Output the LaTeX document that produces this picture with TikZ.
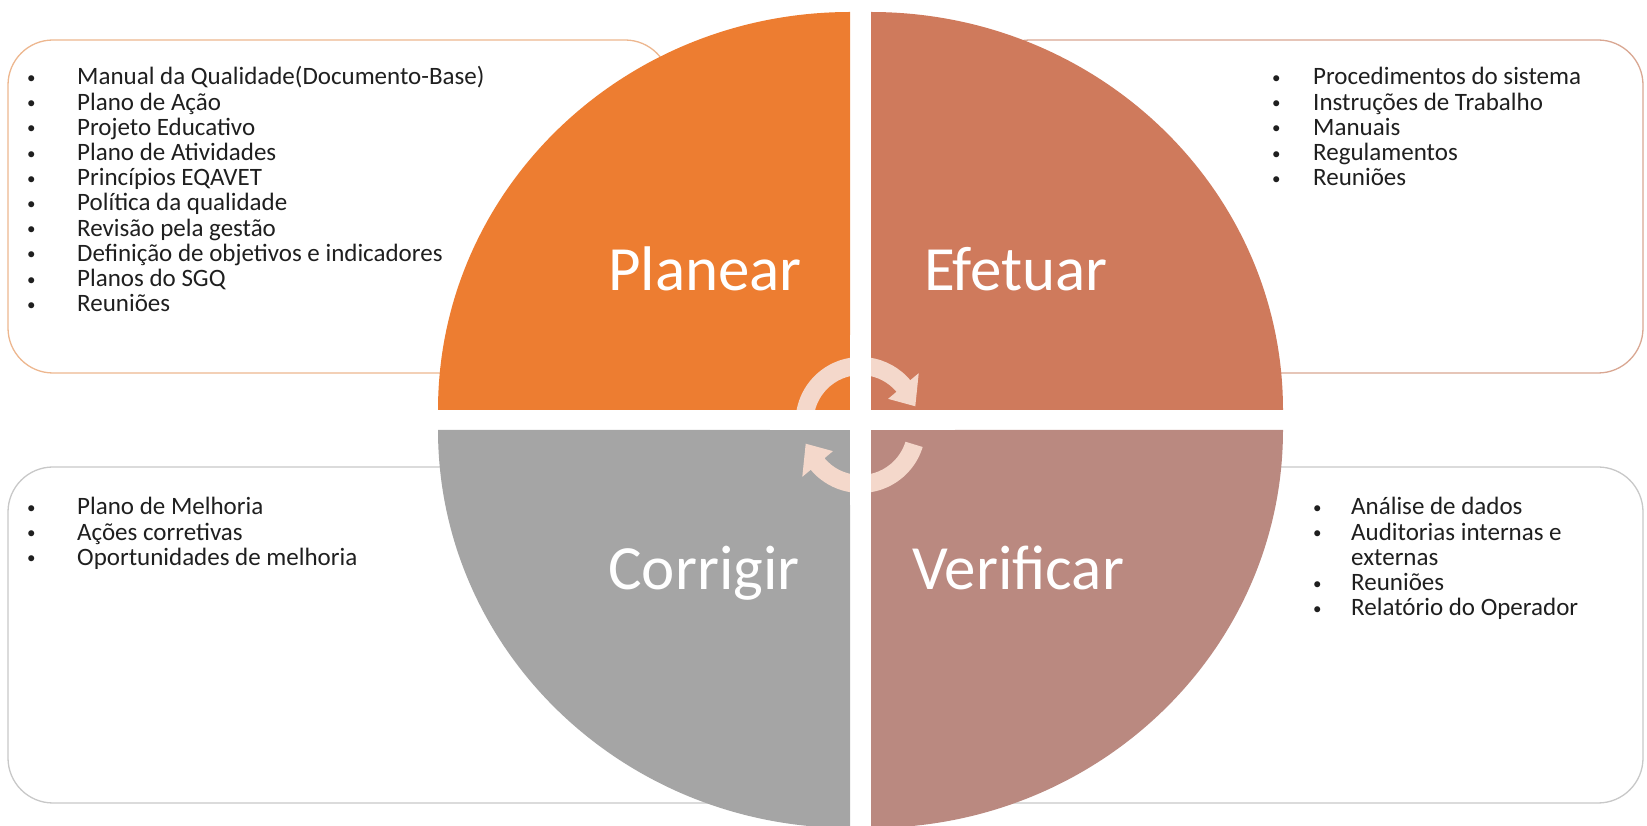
\documentclass[tikz,border=0pt]{standalone}
\usepackage{fontspec}
\setmainfont{Carlito}
\usepackage{array}
\usepackage{xcolor}
\usepackage{tikz}
\usetikzlibrary{positioning}

\definecolor{planorange}{HTML}{ED7D31}
\definecolor{efetbrown}{HTML}{CF7A5C}
\definecolor{corrgray}{HTML}{A5A5A5}
\definecolor{verirose}{HTML}{BA8980}
\definecolor{cyclepeach}{HTML}{F4D8CB}
\definecolor{planline}{HTML}{EDB78F}
\definecolor{efetline}{HTML}{D9A792}
\definecolor{greyline}{HTML}{C8C8C8}
\definecolor{listtext}{HTML}{1F1F1F}

\newcommand{\itm}{\raisebox{1.5pt}{\fontsize{17}{17}\selectfont\textbullet}}

\tikzset{
  listbox/.style={line width=1.3pt, rounded corners=45pt, fill=white},
  phase/.style={text=white, font=\fontsize{63}{70}\selectfont, anchor=base, inner sep=0pt},
  itemlist/.style={text=listtext, font=\fontsize{25}{25.2}\selectfont, anchor=base west, inner sep=0pt},
}

\begin{document}
\begin{tikzpicture}[x=1pt,y=1pt]
\useasboundingbox (0,0) rectangle (1647,825);
\clip (0,0) rectangle (1647,825);

% text boxes behind the circle
\draw[listbox, draw=planline] (8,785) rectangle (670,452);
\draw[listbox, draw=efetline] (985,785) rectangle (1643,452);
\draw[listbox, draw=greyline] (8,358) rectangle (760,22);
\draw[listbox, draw=greyline] (900,358) rectangle (1643,22);

% the four quarters
\fill[planorange] (850,415) -- (438,415) arc[start angle=180, end angle=90, x radius=412, y radius=398] -- cycle;
\fill[efetbrown] (871,415) -- (871,813) arc[start angle=90, end angle=0, x radius=412, y radius=398] -- cycle;
\fill[corrgray] (850,395) -- (438,395) arc[start angle=180, end angle=270, x radius=412, y radius=398] -- cycle;
\fill[verirose] (871,395) -- (1283,395) arc[start angle=0, end angle=-90, x radius=412, y radius=398] -- cycle;

% cycle arrows, cut by the white gap
\foreach \rot/\cy/\st in {0/403/172, 180/397/163}{
  \begin{scope}[shift={(860.5,\cy)}, rotate=\rot]
    \fill[cyclepeach] (\st:65) arc[start angle=\st, end angle=40, radius=65] -- (40:76)
      -- (16:57) -- (40:36) -- (40:47) arc[start angle=40, end angle=\st, radius=47] -- cycle;
  \end{scope}
}
\fill[white] (850,320) rectangle (871,490);
\fill[white] (770,395) rectangle (955,415);

\node[phase] (planear) at (705,534) {Planear};
\node[phase] (efetuar) at (1016,534) {Efetuar};
\node[phase] (corrigir) at (704,235) {Corrigir};
\node[phase] (verificar) at (1018,235) {Verificar};

\node[itemlist] (planlist) at (27,740) {\begin{tabular}[t]{@{}w{l}{50pt}@{}l@{}}
\itm & Manual da Qualidade(Documento-Base)\\
\itm & Plano de Ação\\
\itm & Projeto Educativo\\
\itm & Plano de Atividades\\
\itm & Princípios EQAVET\\
\itm & Política da qualidade\\
\itm & Revisão pela gestão\\
\itm & Definição de objetivos e indicadores\\
\itm & Planos do SGQ\\
\itm & Reuniões
\end{tabular}};
\node[itemlist] (efetlist) at (1272,740) {\begin{tabular}[t]{@{}w{l}{41pt}@{}l@{}}
\itm & Procedimentos do sistema\\
\itm & Instruções de Trabalho\\
\itm & Manuais\\
\itm & Regulamentos\\
\itm & Reuniões
\end{tabular}};
\node[itemlist] (corrlist) at (27,310) {\begin{tabular}[t]{@{}w{l}{50pt}@{}l@{}}
\itm & Plano de Melhoria\\
\itm & Ações corretivas\\
\itm & Oportunidades de melhoria
\end{tabular}};
\node[itemlist] (verilist) at (1313,310) {\begin{tabular}[t]{@{}w{l}{38pt}@{}l@{}}
\itm & Análise de dados\\
\itm & Auditorias internas e\\
     & externas\\
\itm & Reuniões\\
\itm & Relatório do Operador
\end{tabular}};
\end{tikzpicture}
\end{document}
